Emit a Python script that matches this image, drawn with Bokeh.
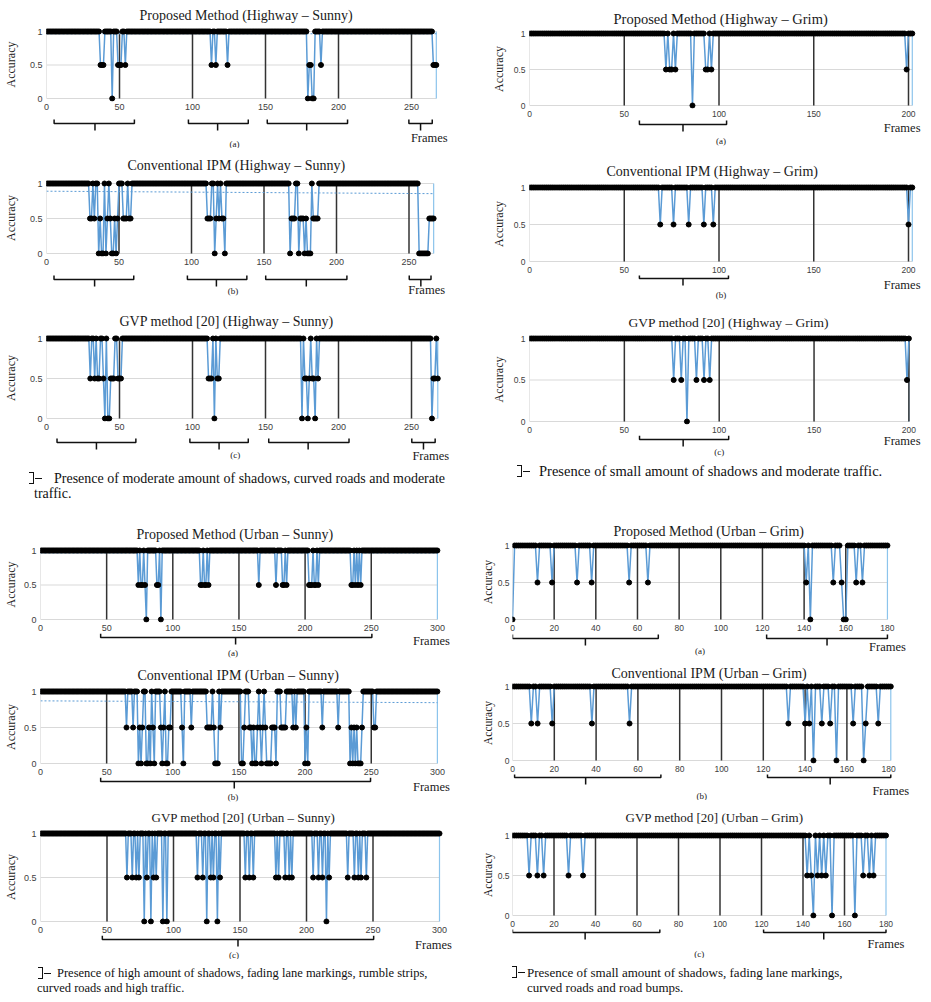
from bokeh.plotting import figure
from bokeh.layouts import column, row
from bokeh.models import Range1d, FixedTicker, Div, Spacer
from bokeh.embed import file_html
from bokeh.resources import INLINE
from bokeh.core.properties import value

SERIF = "Liberation Serif"
SANS = "Liberation Sans"
BLUE = "#5B9BD5"

# ---------------- data ----------------
Y_TICKS = [0, 0.5, 1]
Y_LABELS = ["0", "0.5", "1"]

HWY_SUNNY_TICKS = [0, 50, 100, 150, 200, 250]
HWY_SUNNY_DIVIDERS = [50, 100, 150, 200, 250]
HWY_GRIM_TICKS = [0, 50, 100, 150, 200]
HWY_GRIM_DIVIDERS = [50, 100, 150, 200]
URB_SUNNY_TICKS = [0, 50, 100, 150, 200, 250, 300]
URB_SUNNY_DIVIDERS = [50, 100, 150, 200, 250]
URB_GRIM_TICKS = [0, 20, 40, 60, 80, 100, 120, 140, 160, 180]
URB_GRIM_DIVIDERS = [20, 40, 60, 80, 100, 120, 140, 160]

# frames whose accuracy differs from 1 (all other frames are 1)
PROP_HS_N = 268
PROP_HS_FRAMES = [37, 38, 39, 45, 49, 50, 51, 54, 113, 116, 124, 179, 180, 181, 182, 183, 188, 265, 266, 267]
PROP_HS_VALUES = [0.5, 0.5, 0.5, 0, 0.5, 0.5, 0.5, 0.5, 0.5, 0.5, 0.5, 0, 0.5, 0.5, 0, 0, 0.5, 0.5, 0.5, 0.5]
PROP_HS_TREND = [0.966, 0.966]

CONV_HS_N = 268
CONV_HS_FRAMES = [30, 31, 33, 36, 37, 38, 39, 41, 42, 44, 45, 46, 47, 48, 49, 53, 54, 55, 57, 58,
                  111, 112, 113, 116, 117, 119, 121, 122, 123,
                  168, 169, 170, 171, 174, 175, 176, 177, 178, 179, 180, 181, 182, 184, 185, 186, 187,
                  257, 258, 259, 260, 261, 262, 263, 264, 265, 266, 267]
CONV_HS_VALUES = [0.5, 0.5, 0.5, 0, 0.5, 0, 0, 0, 0.5, 0.5, 0, 0, 0.5, 0, 0.5, 0.5, 0.5, 0.5, 0.5, 0.5,
                  0.5, 0.5, 0.5, 0, 0.5, 0.5, 0.5, 0.5, 0,
                  0, 0.5, 0.5, 0.5, 0, 0.5, 0.5, 0.5, 0, 0.5, 0, 0, 0, 0.5, 0.5, 0.5, 0.5,
                  0, 0, 0, 0, 0, 0, 0, 0.5, 0.5, 0.5, 0.5]
CONV_HS_TREND = [0.89, 0.855]

GVP_HS_N = 269
GVP_HS_FRAMES = [30, 33, 35, 36, 39, 40, 42, 43, 44, 45, 46, 49, 50, 51,
                 111, 112, 113, 115, 117, 118,
                 175, 177, 178, 179, 180, 182, 183, 184, 186,
                 264, 265, 266, 268]
GVP_HS_VALUES = [0.5, 0.5, 0.5, 0.5, 0.5, 0, 0, 0, 0.5, 0.5, 0.5, 0.5, 0.5, 0.5,
                 0.5, 0.5, 0.5, 0, 0.5, 0.5,
                 0, 0.5, 0.5, 0, 0.5, 0.5, 0.5, 0, 0.5,
                 0, 0.5, 0.5, 0.5]

PROP_HG_N = 203
PROP_HG_FRAMES = [72, 74, 75, 77, 86, 93, 94, 96, 199]
PROP_HG_VALUES = [0.5, 0.5, 0.5, 0.5, 0, 0.5, 0.5, 0.5, 0.5]

CONV_HG_N = 203
CONV_HG_FRAMES = [69, 76, 84, 92, 97, 200]
CONV_HG_VALUES = [0.5, 0.5, 0.5, 0.5, 0.5, 0.5]

GVP_HG_N = 201
GVP_HG_FRAMES = [76, 80, 83, 88, 92, 95, 199]
GVP_HG_VALUES = [0.5, 0.5, 0, 0.5, 0.5, 0.5, 0.5]

PROP_US_N = 301
PROP_US_FRAMES = [74, 76, 77, 79, 80, 88, 89, 91, 121, 122, 124, 125, 127, 165, 178, 183, 184, 186,
                  203, 204, 205, 207, 208, 210, 235, 236, 238, 240, 242]
PROP_US_VALUES = [0.5, 0.5, 0.5, 0.5, 0, 0.5, 0.5, 0, 0.5, 0.5, 0.5, 0.5, 0.5, 0.5, 0.5, 0.5, 0.5, 0.5,
                  0.5, 0.5, 0.5, 0.5, 0.5, 0.5, 0.5, 0.5, 0.5, 0.5, 0.5]
PROP_US_TREND = [0.965, 0.965]

CONV_US_N = 301
CONV_US_FRAMES = [65, 70, 74, 75, 76, 77, 80, 81, 82, 83, 85, 86, 91, 92, 93, 95, 96, 97, 98,
                  107, 108, 114, 126, 127, 128, 129, 131, 132, 133, 134, 136,
                  152, 153, 154, 158, 159, 160, 161, 162, 163, 164, 166, 167, 168, 170, 171, 172, 173, 174,
                  175, 176, 177, 178, 182, 183, 184, 185, 191, 193, 200, 201, 202, 213, 225,
                  234, 235, 236, 237, 238, 239, 240, 241, 242, 243, 252, 253]
CONV_US_VALUES = [0.5, 0.5, 0, 0.5, 0, 0.5, 0, 0, 0.5, 0, 0.5, 0, 0.5, 0, 0.5, 0, 0, 0.5, 0.5,
                  0.5, 0, 0.5, 0.5, 0.5, 0.5, 0.5, 0.5, 0, 0, 0, 0.5,
                  0, 0, 0.5, 0.5, 0.5, 0, 0.5, 0, 0, 0.5, 0.5, 0, 0.5, 0.5, 0, 0, 0, 0,
                  0.5, 0.5, 0.5, 0, 0.5, 0.5, 0.5, 0.5, 0.5, 0.5, 0, 0.5, 0, 0.5, 0.5,
                  0, 0.5, 0, 0.5, 0, 0.5, 0, 0, 0, 0.5, 0.5, 0.5]
CONV_US_TREND = [0.87, 0.845]

GVP_US_N = 301
GVP_US_FRAMES = [65, 69, 72, 74, 78, 80, 83, 85, 87, 92, 95, 118, 122, 125, 128, 130, 133, 135,
                 154, 157, 160, 177, 179, 184, 187, 189, 205, 209, 212, 215, 217, 231, 236, 239, 241, 245]
GVP_US_VALUES = [0.5, 0.5, 0.5, 0.5, 0, 0.5, 0, 0.5, 0.5, 0, 0, 0.5, 0.5, 0, 0.5, 0.5, 0, 0.5,
                 0.5, 0.5, 0.5, 0.5, 0.5, 0.5, 0.5, 0.5, 0.5, 0.5, 0.5, 0, 0.5, 0.5, 0.5, 0.5, 0.5, 0.5]

PROP_UG_N = 181
PROP_UG_FRAMES = [0, 12, 19, 31, 38, 56, 65, 141, 143, 154, 158, 159, 160, 165, 168]
PROP_UG_VALUES = [0, 0.5, 0.5, 0.5, 0.5, 0.5, 0.5, 0.5, 0, 0.5, 0.5, 0, 0, 0.5, 0.5]

CONV_UG_N = 182
CONV_UG_FRAMES = [9, 12, 19, 38, 56, 132, 140, 142, 144, 148, 152, 155, 163, 168, 169, 175]
CONV_UG_VALUES = [0.5, 0.5, 0.5, 0.5, 0.5, 0.5, 0.5, 0.5, 0, 0.5, 0.5, 0, 0.5, 0, 0.5, 0.5]

GVP_UG_N = 181
GVP_UG_FRAMES = [8, 12, 15, 27, 34, 142, 144, 145, 147, 149, 151, 154, 165, 169, 172, 174]
GVP_UG_VALUES = [0.5, 0.5, 0.5, 0.5, 0.5, 0.5, 0.5, 0, 0.5, 0.5, 0.5, 0, 0, 0.5, 0.5, 0.5]

# bracket spans under each panel: (start frame, middle tick, end frame)
PROP_HS_BRACKETS = [(10, 38, 65), (102, 122, 143), (156, 183, 211), (253, 261, 269)]
CONV_HS_BRACKETS = [(10, 38, 65), (102, 122, 143), (156, 184, 212), (255, 263, 270)]
GVP_HS_BRACKETS = [(12, 39, 66), (103, 123, 143), (157, 184, 212), (255, 263, 271)]
PROP_HG_BRACKETS = [(58, 81, 104)]
CONV_HG_BRACKETS = [(58, 81, 105)]
GVP_HG_BRACKETS = [(58, 81, 105)]
PROP_US_BRACKETS = [(50, 152, 255)]
CONV_US_BRACKETS = [(50, 151, 254)]
GVP_US_BRACKETS = [(51, 153, 255)]
PROP_UG_BRACKETS = [(0, 35, 70), (122, 151, 180)]
CONV_UG_BRACKETS = [(1, 35, 71), (122, 152, 181)]
GVP_UG_BRACKETS = [(0, 35, 71), (121, 150, 180)]

NOTE_HS = "Presence of moderate amount of shadows, curved roads and moderate<br>traffic."
NOTE_HG = "Presence of small amount of shadows and moderate traffic."
NOTE_US = "Presence of high amount of shadows, fading lane markings, rumble strips,<br>curved roads and high traffic."
NOTE_UG = "Presence of small amount of shadows, fading lane markings,<br>curved roads and road bumps."

MT, MB = 4, 3  # px of frame above y=1 and below y=0


def build_series(n, frames, values):
    ys = [1.0] * n
    for f, v in zip(frames, values):
        ys[f] = v
    return list(range(n)), ys


def panel(title, caption, n, frames, values, ticks, dividers, brackets, trend, g):
    col_left, col_right = g["cols"]
    x0 = g["x0"]
    frame_w = col_right - x0
    border_l = x0 - col_left
    xr = Range1d(0, frame_w / g["ppf"])
    unit = g["fh"] - MT - MB
    yr = Range1d(-MB / unit, 1 + MT / unit)
    xmax = n - 1

    p = figure(frame_width=frame_w, frame_height=g["fh"], x_range=xr, y_range=yr,
               output_backend="svg", toolbar_location=None, frame_align=False,
               min_border_left=border_l, min_border_right=0, min_border_top=0, min_border_bottom=0)
    p.title.text = title
    p.title.align = "left"
    p.title.offset = g["tl"] - x0
    p.title.text_font = SERIF
    p.title.text_font_size = f"{g['ts']}px"
    p.title.text_font_style = "normal"
    p.title.text_color = "#1a1a1a"
    p.title.standoff = g["st"]
    p.outline_line_color = None
    p.xgrid.visible = False
    p.ygrid.visible = False

    xa = p.xaxis[0]
    xa.ticker = FixedTicker(ticks=ticks)
    xa.axis_line_color = None
    xa.major_tick_line_color = None
    xa.minor_tick_line_color = None
    xa.major_tick_out = 0
    xa.major_label_standoff = 2
    xa.major_label_text_font = SANS
    xa.major_label_text_font_size = f"{g['tk']}px"
    xa.major_label_text_color = "#404040"

    ya = p.yaxis[0]
    ya.ticker = FixedTicker(ticks=Y_TICKS)
    ya.major_label_overrides = {t: l for t, l in zip(Y_TICKS, Y_LABELS)}
    ya.axis_line_color = None
    ya.major_tick_line_color = None
    ya.minor_tick_line_color = None
    ya.major_tick_out = 0
    ya.major_label_standoff = g["ms"]
    ya.major_label_text_font = SANS
    ya.major_label_text_font_size = f"{g['tk']}px"
    ya.major_label_text_color = "#404040"
    ya.axis_label = "Accuracy"
    ya.axis_label_text_font = SERIF
    ya.axis_label_text_font_size = f"{g['al']}px"
    ya.axis_label_text_font_style = "normal"
    ya.axis_label_text_color = "#1a1a1a"
    ya.axis_label_standoff = g["ls"]

    # plot area: gridlines, borders, dividers
    p.segment(x0=[0] * len(Y_TICKS), y0=Y_TICKS, x1=[xmax] * len(Y_TICKS), y1=Y_TICKS,
              line_color="#d9d9d9", line_width=1)
    p.segment(x0=[0], y0=[Y_TICKS[0]], x1=[0], y1=[Y_TICKS[-1]], line_color="#d0d0d0", line_width=1)
    p.segment(x0=[xmax], y0=[Y_TICKS[0]], x1=[xmax], y1=[Y_TICKS[-1]], line_color="#8cc4ec", line_width=1.2)
    p.segment(x0=dividers, y0=[Y_TICKS[0]] * len(dividers), x1=dividers, y1=[Y_TICKS[-1]] * len(dividers),
              line_color="#333333", line_width=1.5)
    if trend is not None:
        p.line([0, xmax], trend, line_color=BLUE, line_width=1, line_dash="2 2")

    xs, ys = build_series(n, frames, values)
    p.line(xs, ys, line_color=BLUE, line_width=1.5)
    p.scatter(xs, ys, size=5, fill_color="black", line_color="black")

    # bracket strip with shared x scale
    bh = g["bh"]
    b = figure(frame_width=frame_w, frame_height=bh, x_range=xr, y_range=Range1d(bh, 0),
               x_axis_type=None, y_axis_type=None, output_backend="svg", toolbar_location=None,
               title=None, frame_align=False, min_border_left=border_l, min_border_right=0,
               min_border_top=0, min_border_bottom=0)
    b.outline_line_color = None
    by = g["by"]
    bxs, bys = [], []
    for s, t, e in brackets:
        bxs.append([s, s, e, e])
        bys.append([by - 4, by, by, by - 4])
        bxs.append([t, t])
        bys.append([by, by + 7])
    b.multi_line(bxs, bys, line_color="#111111", line_width=1.5)
    if g["fa"] == "center":
        b.text(x=[xmax], y=[g["fy"]], text=["Frames"], text_font=value(SERIF),
               text_font_size=value("12.5px"), text_align="center", text_baseline="middle",
               text_color="#1a1a1a")
    else:
        b.text(x=[xr.end], y=[g["fy"]], text=["Frames"], text_font=value(SERIF),
               text_font_size=value("12.5px"), text_align="right", text_baseline="middle",
               text_color="#1a1a1a", x_offset=-2)
    b.text(x=[xmax / 2], y=[g["cy"]], text=[caption], text_font=value(SERIF),
           text_font_size=value("9px"), text_align="center", text_baseline="middle",
           text_color="#1a1a1a")
    return [p, b]


def note(text, width, height, top, br_left, txt_left, indent, fs):
    html = (
        f'<div style="position:relative;width:{width}px;height:{height}px;'
        f"font-family:'Liberation Serif';font-size:{fs}px;line-height:15px;color:#111;\">"
        f'<div style="position:absolute;left:{br_left}px;top:{top + 1}px;width:5px;height:12px;'
        f'border:1.3px solid #111;border-left:none;"></div>'
        f'<div style="position:absolute;left:{br_left + 6}px;top:{top + 7}px;width:7px;'
        f'border-top:1.3px solid #111;"></div>'
        f'<div style="position:absolute;left:{txt_left}px;top:{top}px;text-indent:{indent}px;'
        f'white-space:nowrap;">{text}</div></div>'
    )
    return Div(text=html, width=width, height=height)


L = (8, 475)
R = (478, 923)
g1 = dict(cols=L, x0=47, ppf=1.46, fh=74, bh=36, by=11, fy=25, cy=31, tl=140, ts=14, tk=9, ls=9, st=9, ms=4, al=12, fa="center")
g2 = dict(cols=L, x0=47, ppf=1.45, fh=77, bh=38, by=12, fy=22, cy=23, tl=128, ts=14, tk=9, ls=9, st=14, ms=4, al=12, fa="center")
g3 = dict(cols=L, x0=47, ppf=1.46, fh=87, bh=30, by=10, fy=23, cy=22, tl=120, ts=14, tk=9, ls=9, st=12, ms=4, al=12, fa="center")
g7 = dict(cols=L, x0=42, ppf=1.323, fh=76, bh=27, by=4, fy=7, cy=19, tl=138, ts=14, tk=9, ls=3, st=9, ms=4, al=12, fa="center")
g8 = dict(cols=L, x0=42, ppf=1.323, fh=79, bh=26, by=4, fy=9, cy=19, tl=139, ts=14, tk=9, ls=3, st=10, ms=4, al=12, fa="center")
g9 = dict(cols=L, x0=42, ppf=1.33, fh=95, bh=24, by=4, fy=9, cy=19, tl=153, ts=13, tk=9, ls=3, st=9, ms=4, al=12, fa="center")
g4 = dict(cols=R, x0=530, ppf=1.895, fh=79, bh=38, by=5, fy=8, cy=21, tl=614, ts=14.5, tk=8.5, ls=5, st=6, ms=4, al=12, fa="right")
g5 = dict(cols=R, x0=530, ppf=1.895, fh=81, bh=33, by=3, fy=9, cy=19, tl=607, ts=14, tk=8.5, ls=5, st=9, ms=4, al=12, fa="right")
g6 = dict(cols=R, x0=530, ppf=1.897, fh=90, bh=22, by=4, fy=5, cy=16, tl=629, ts=13.5, tk=8.5, ls=5, st=9, ms=4, al=12, fa="right")
g10 = dict(cols=R, x0=513, ppf=2.083, fh=81, bh=28, by=5, fy=13, cy=17, tl=614, ts=14, tk=8.5, ls=1, st=6, ms=3, al=11.5, fa="center")
g11 = dict(cols=R, x0=513, ppf=2.09, fh=81, bh=26, by=3, fy=16, cy=21, tl=612, ts=14, tk=8.5, ls=1, st=4, ms=3, al=11.5, fa="center")
g12 = dict(cols=R, x0=513, ppf=2.075, fh=87, bh=29, by=3, fy=14, cy=24, tl=626, ts=13, tk=8.5, ls=1, st=14, ms=3, al=11.5, fa="center")

left = column(
    Spacer(width=467, height=1),
    *panel("Proposed Method (Highway \u2013 Sunny)", "(a)", PROP_HS_N, PROP_HS_FRAMES, PROP_HS_VALUES,
           HWY_SUNNY_TICKS, HWY_SUNNY_DIVIDERS, PROP_HS_BRACKETS, PROP_HS_TREND, g1),
    *panel("Conventional  IPM (Highway \u2013 Sunny)", "(b)", CONV_HS_N, CONV_HS_FRAMES, CONV_HS_VALUES,
           HWY_SUNNY_TICKS, HWY_SUNNY_DIVIDERS, CONV_HS_BRACKETS, CONV_HS_TREND, g2),
    *panel("GVP method [20] (Highway \u2013 Sunny)", "(c)", GVP_HS_N, GVP_HS_FRAMES, GVP_HS_VALUES,
           HWY_SUNNY_TICKS, HWY_SUNNY_DIVIDERS, GVP_HS_BRACKETS, None, g3),
    note(NOTE_HS, 467, 35, 4, 24, 29, 20, 14),
    Spacer(width=467, height=13),
    *panel("Proposed Method (Urban \u2013 Sunny)", "(a)", PROP_US_N, PROP_US_FRAMES, PROP_US_VALUES,
           URB_SUNNY_TICKS, URB_SUNNY_DIVIDERS, PROP_US_BRACKETS, PROP_US_TREND, g7),
    *panel("Conventional  IPM (Urban \u2013 Sunny)", "(b)", CONV_US_N, CONV_US_FRAMES, CONV_US_VALUES,
           URB_SUNNY_TICKS, URB_SUNNY_DIVIDERS, CONV_US_BRACKETS, CONV_US_TREND, g8),
    *panel("GVP method [20] (Urban \u2013 Sunny)", "(c)", GVP_US_N, GVP_US_FRAMES, GVP_US_VALUES,
           URB_SUNNY_TICKS, URB_SUNNY_DIVIDERS, GVP_US_BRACKETS, None, g9),
    note(NOTE_US, 467, 32, 2, 33, 32, 20, 12.5),
)

right = column(
    Spacer(width=445, height=5),
    *panel("Proposed Method (Highway \u2013 Grim)", "(a)", PROP_HG_N, PROP_HG_FRAMES, PROP_HG_VALUES,
           HWY_GRIM_TICKS, HWY_GRIM_DIVIDERS, PROP_HG_BRACKETS, None, g4),
    *panel("Conventional  IPM (Highway \u2013 Grim)", "(b)", CONV_HG_N, CONV_HG_FRAMES, CONV_HG_VALUES,
           HWY_GRIM_TICKS, HWY_GRIM_DIVIDERS, CONV_HG_BRACKETS, None, g5),
    *panel("GVP method [20] (Highway \u2013 Grim)", "(c)", GVP_HG_N, GVP_HG_FRAMES, GVP_HG_VALUES,
           HWY_GRIM_TICKS, HWY_GRIM_DIVIDERS, GVP_HG_BRACKETS, None, g6),
    note(NOTE_HG, 445, 23, 2, 35, 57, 0, 14.5),
    Spacer(width=445, height=28),
    *panel("Proposed Method (Urban \u2013 Grim)", "(a)", PROP_UG_N, PROP_UG_FRAMES, PROP_UG_VALUES,
           URB_GRIM_TICKS, URB_GRIM_DIVIDERS, PROP_UG_BRACKETS, None, g10),
    *panel("Conventional  IPM (Urban \u2013 Grim)", "(b)", CONV_UG_N, CONV_UG_FRAMES, CONV_UG_VALUES,
           URB_GRIM_TICKS, URB_GRIM_DIVIDERS, CONV_UG_BRACKETS, None, g11),
    *panel("GVP method [20] (Urban \u2013 Grim)", "(c)", GVP_UG_N, GVP_UG_FRAMES, GVP_UG_VALUES,
           URB_GRIM_TICKS, URB_GRIM_DIVIDERS, GVP_UG_BRACKETS, None, g12),
    note(NOTE_UG, 445, 33, 2, 30, 45, 0, 13),
)

layout = row(left, right)
open("out.html", "w").write(file_html(layout, INLINE))
